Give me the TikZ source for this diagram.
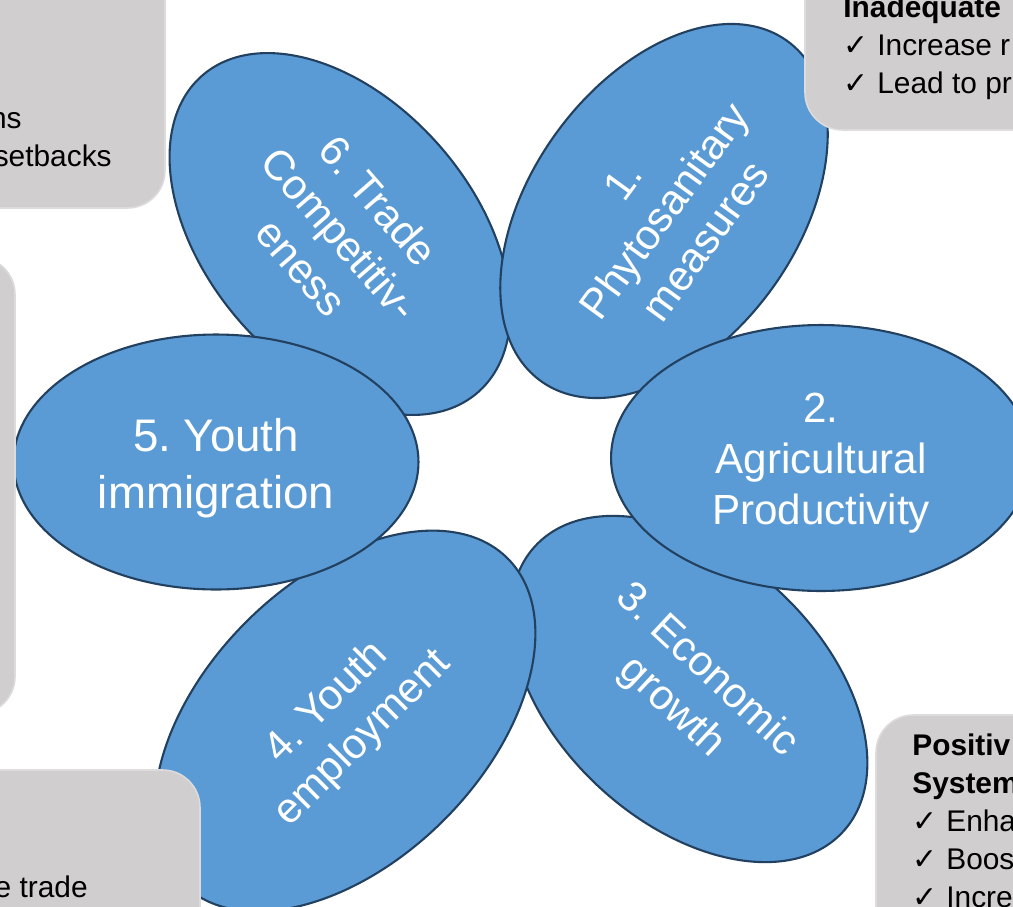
\documentclass[tikz,border=0pt]{standalone}
\usepackage{fontspec}
\setmainfont{Liberation Sans}
\newfontfamily\ticks{DejaVu Sans}
\usetikzlibrary{shapes.geometric}
\definecolor{petalblue}{HTML}{5B9BD5}
\definecolor{petalline}{HTML}{22405F}
\definecolor{panelgray}{HTML}{D0CECE}
\definecolor{panelline}{HTML}{DDDBDB}
\newcommand{\tickmark}{\makebox[0.68cm][l]{\ticks\fontsize{17}{17}\selectfont ✓}}
\frenchspacing
\begin{document}
\begin{tikzpicture}[x=0.02cm,y=-0.02cm,
  petal/.style={ellipse,draw=petalline,line width=1.2pt,fill=petalblue,text=white,
    minimum width=8.4cm,minimum height=5.32cm,inner sep=0pt,align=center,
    font=\fontsize{24}{29}\selectfont},
  panel/.style={draw=panelline,line width=0.9pt,fill=panelgray,rounded corners=0.75cm},
  note/.style={inner sep=0pt,align=left,font=\fontsize{17}{21.5}\selectfont}]
\useasboundingbox (0,0) rectangle (1013,906);
\clip (0,0) rectangle (1013,906);

\node (trade) [petal, rotate=-49] at (340,234) {6. Trade\\Competitiv-\\eness};
\node (phyto) [petal, rotate=54] at (664,211) {1.\\Phytosanitary\\measures};
\node (econ) [petal, rotate=-43] at (689,689) {3. Economic\\growth};
\node (agri) [petal] at (821,458) {\rule{0pt}{0.95em}2.\\Agricultural\\Productivity};
\node (employ) [petal, rotate=45, minimum width=9.2cm, minimum height=5.6cm]
  at (345,721) {4. Youth\\employment};
\node (migra) [petal, minimum width=8.1cm, minimum height=5.1cm,
  font=\fontsize{26}{32}\selectfont] at (216,462) {\rule{0pt}{1em}5. Youth\\immigration};

\draw[panel] (-150,-150) rectangle (165,208);
\draw[panel] (805,-150) rectangle (1200,130);
\draw[panel] (-300,257) rectangle (15,714);
\draw[panel] (-300,770) rectangle (200,1100);
\draw[panel] (876,715) rectangle (1200,1100);

\node (lossa) [note, anchor=base east] at (22,128) {ns};
\node (lossb) [note, anchor=base east] at (112,166) {setbacks};
\node (inadequate) [note, anchor=base west] at (843,93)
  {\textbf{Inadequate}\\\tickmark Increase r\\\tickmark Lead to pr};
\node (tradeside) [note, anchor=base east] at (88,897) {e trade};
\node (positive) [note, anchor=base west] at (912,907)
  {\textbf{Positiv}\\\textbf{System}\\\tickmark Enha\\\tickmark Boos\\\tickmark Incre};
\end{tikzpicture}
\end{document}
